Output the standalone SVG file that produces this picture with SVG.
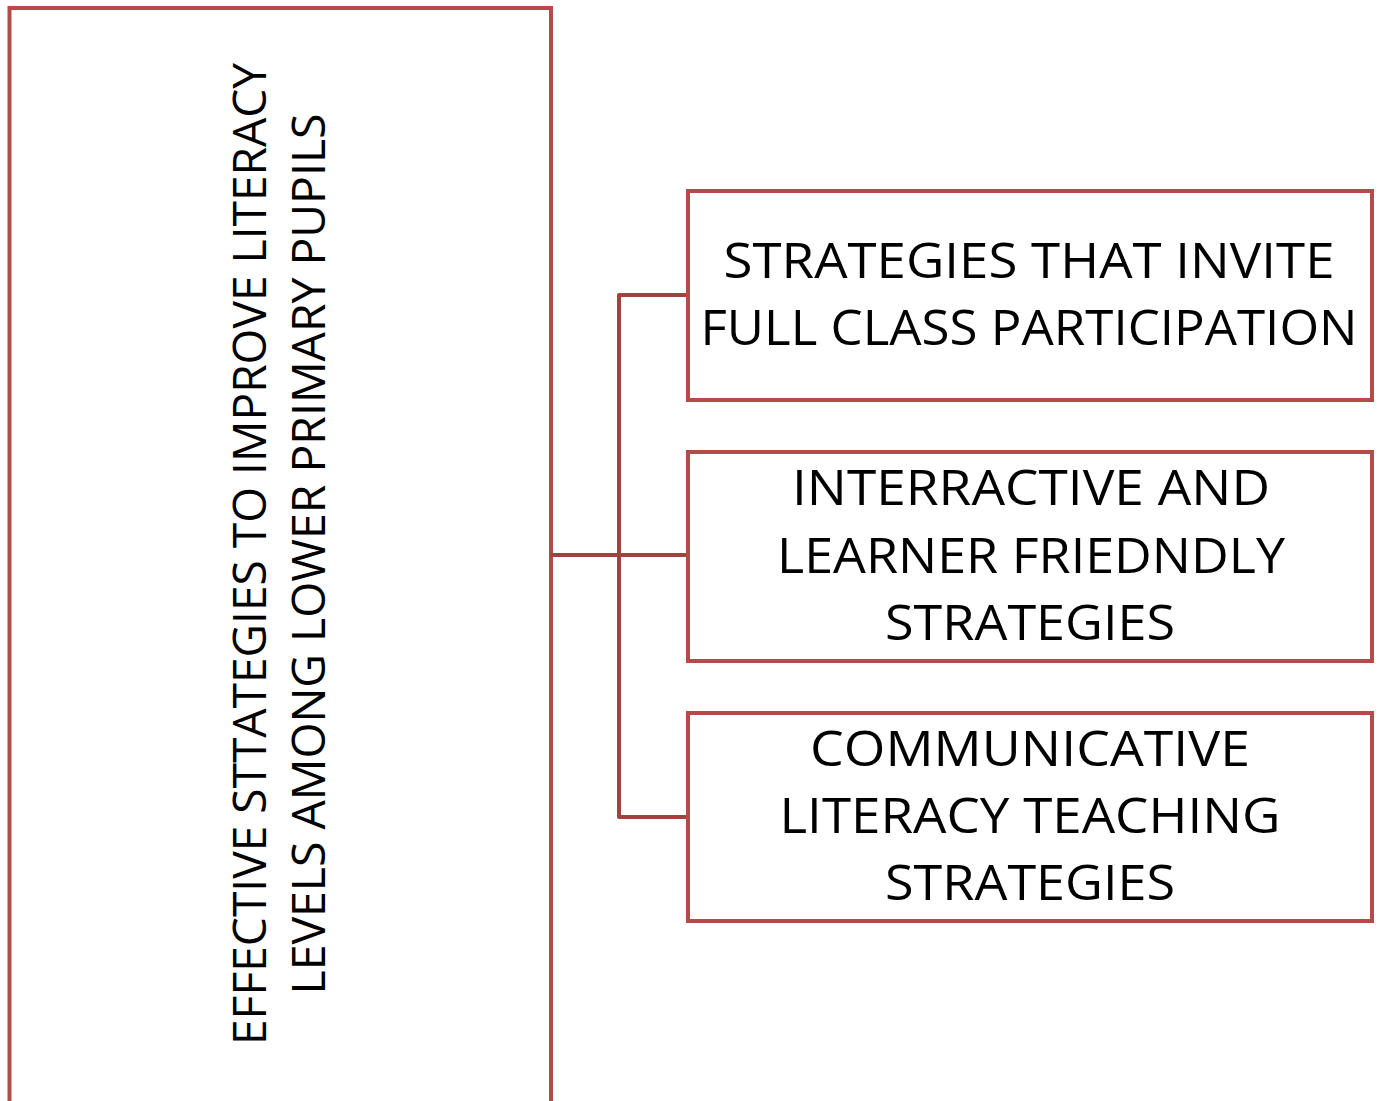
<svg xmlns="http://www.w3.org/2000/svg" width="1379" height="1101" viewBox="0 0 1379 1101">
  <style>
    .box { fill: #ffffff; stroke: #b34c49; stroke-width: 4; }
    .conn { fill: none; stroke: #a3413f; stroke-width: 4; stroke-linejoin: round; }
    .t { font-family: "Open Sans", "Liberation Sans", sans-serif; font-size: 50px; fill: #000000; text-anchor: middle; }
    .tv { font-family: "Open Sans", "Liberation Sans", sans-serif; font-size: 46px; fill: #000000; text-anchor: middle; }
  </style>
  <rect width="1379" height="1101" fill="#ffffff"/>
  <g id="root">
    <rect class="box" x="9.5" y="8" width="541.5" height="1110"/>
    <text class="tv" transform="translate(266,554) rotate(-90)" textLength="982" lengthAdjust="spacingAndGlyphs">EFFECTIVE STTATEGIES TO IMPROVE LITERACY</text>
    <text class="tv" transform="translate(325,554) rotate(-90)" textLength="881" lengthAdjust="spacingAndGlyphs">LEVELS AMONG LOWER PRIMARY PUPILS</text>
  </g>
  <g id="connectors">
    <path class="conn" d="M551,555 H687"/>
    <path class="conn" d="M687,295 H619 V817 H687"/>
  </g>
  <g id="node1">
    <rect class="box" x="688" y="191" width="684" height="209"/>
    <text class="t" x="1029" y="278" textLength="611" lengthAdjust="spacingAndGlyphs">STRATEGIES THAT INVITE</text>
    <text class="t" x="1029" y="345" textLength="657" lengthAdjust="spacingAndGlyphs">FULL CLASS PARTICIPATION</text>
  </g>
  <g id="node2">
    <rect class="box" x="688" y="452" width="684" height="209"/>
    <text class="t" x="1031" y="505" textLength="478" lengthAdjust="spacingAndGlyphs">INTERRACTIVE AND</text>
    <text class="t" x="1031" y="573" textLength="508" lengthAdjust="spacingAndGlyphs">LEARNER FRIEDNDLY</text>
    <text class="t" x="1030" y="640" textLength="290" lengthAdjust="spacingAndGlyphs">STRATEGIES</text>
  </g>
  <g id="node3">
    <rect class="box" x="688" y="713" width="684" height="208"/>
    <text class="t" x="1030" y="766" textLength="440" lengthAdjust="spacingAndGlyphs">COMMUNICATIVE</text>
    <text class="t" x="1030" y="833" textLength="501" lengthAdjust="spacingAndGlyphs">LITERACY TEACHING</text>
    <text class="t" x="1030" y="900" textLength="290" lengthAdjust="spacingAndGlyphs">STRATEGIES</text>
  </g>
</svg>
